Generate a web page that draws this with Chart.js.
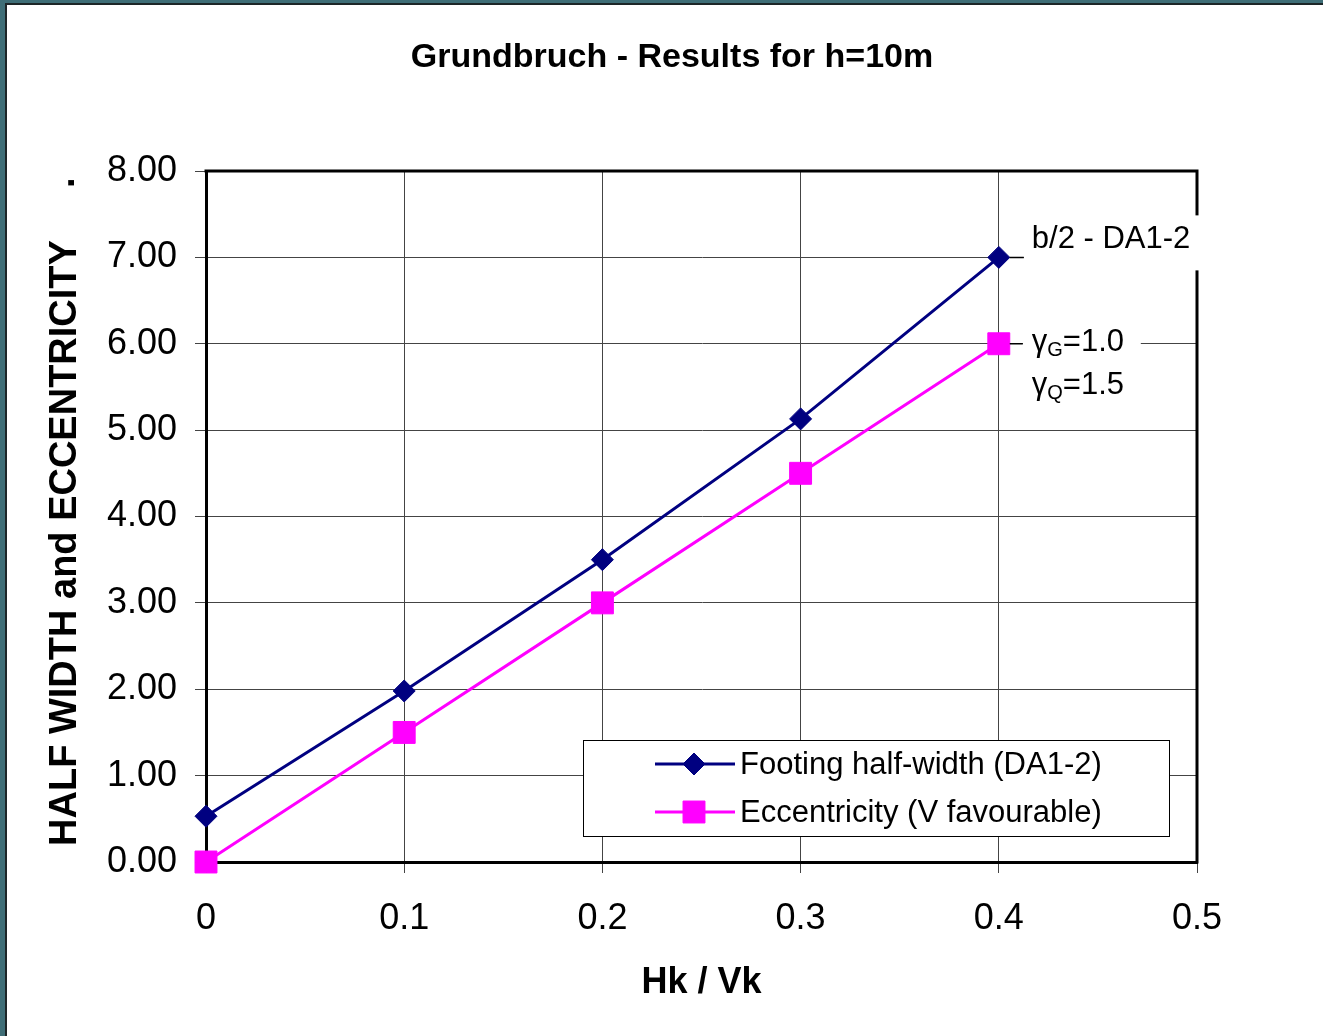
<!DOCTYPE html>
<html>
<head>
<meta charset="utf-8">
<title>Grundbruch - Results for h=10m</title>
<script src="https://cdn.jsdelivr.net/npm/chart.js@4.4.0/dist/chart.umd.min.js"></script>
<style>
  body { margin: 0; background: #fff; }
  #wrap { position: relative; width: 1323px; height: 1036px; overflow: hidden; }
  #myChart { position: absolute; left: 0; top: 0; }
  #frame { position: absolute; left: 0; top: 0; width: 1323px; height: 1036px; box-sizing: border-box;
           border-left: 5px solid #3f6e77; border-top: 3px solid #3f6e77; pointer-events: none; }
  #frame div { width: 100%; height: 100%; box-sizing: border-box;
               border-left: 2px solid #1d2628; border-top: 2px solid #1d2628; }
</style>
</head>
<body>
<div id="wrap">
  <canvas id="myChart" width="1323" height="1036"></canvas>
  <div id="frame"><div></div></div>
</div>
<script>
// values
const hkVk = [0, 0.1, 0.2, 0.3, 0.4];
const halfWidth = [0.53, 1.98, 3.5, 5.13, 7.0];
const eccentricity = [0, 1.5, 3.0, 4.5, 6.0];
const seriesLabels = ["Footing half-width (DA1-2)", "Eccentricity (V favourable)"];
const chartTitle = "Grundbruch - Results for h=10m";
const xTitle = "Hk / Vk";
const yTitle = "HALF WIDTH and ECCENTRICITY";
const noteDA = "b/2 - DA1-2";
const noteGammaG = ["γ", "G", "=1.0"];
const noteGammaQ = ["γ", "Q", "=1.5"];

const FONT = '"Liberation Sans", Arial, sans-serif';
Chart.defaults.font.family = FONT;
Chart.defaults.color = "#000";

const chartDOM = document.getElementById("myChart");

function toPoints(xs, ys) {
  return xs.map((x, i) => ({ x: x, y: ys[i] }));
}

function drawGamma(ctx, parts, x, y) {
  ctx.font = "31px " + FONT;
  ctx.fillText(parts[0], x, y);
  let w = ctx.measureText(parts[0]).width;
  ctx.font = "20px " + FONT;
  ctx.fillText(parts[1], x + w, y + 5);
  w += ctx.measureText(parts[1]).width;
  ctx.font = "31px " + FONT;
  ctx.fillText(parts[2], x + w, y);
}

const extras = {
  id: "extras",
  beforeDatasetsDraw(chart) {
    const { ctx, chartArea: a } = chart;
    ctx.save();
    ctx.strokeStyle = "#000";
    ctx.lineWidth = 3;
    ctx.beginPath();
    ctx.moveTo(a.left - 1.5, a.top);
    ctx.lineTo(a.right, a.top);
    ctx.lineTo(a.right, a.bottom + 1.5);
    ctx.stroke();
    ctx.restore();
  },
  afterDatasetsDraw(chart) {
    const { ctx } = chart;
    const xs = chart.scales.x;
    const ys = chart.scales.y;
    const last = hkVk.length - 1;
    const px = xs.getPixelForValue(hkVk[last]);
    const py1 = ys.getPixelForValue(halfWidth[last]);
    const py2 = ys.getPixelForValue(eccentricity[last]);

    ctx.save();
    // white boxes behind the notes
    ctx.fillStyle = "#fff";
    ctx.fillRect(px + 25, py1 - 42, 178, 55);
    ctx.fillRect(px + 24, py2 - 26, 118, 70);
    ctx.strokeStyle = "#000";
    ctx.lineWidth = 1.5;
    ctx.beginPath();
    ctx.moveTo(px + 11, py1);
    ctx.lineTo(px + 25, py1);
    ctx.moveTo(px + 11, py2);
    ctx.lineTo(px + 24, py2);
    ctx.stroke();

    ctx.fillStyle = "#000";
    ctx.textAlign = "left";
    ctx.textBaseline = "alphabetic";
    ctx.font = "31px " + FONT;
    ctx.fillText(noteDA, px + 33, py1 - 9);
    drawGamma(ctx, noteGammaG, px + 33, py2 + 7);
    drawGamma(ctx, noteGammaQ, px + 33, py2 + 50);

    // legend box
    ctx.fillStyle = "#fff";
    ctx.fillRect(583, 740, 586, 96);
    ctx.strokeStyle = "#000";
    ctx.lineWidth = 1;
    ctx.strokeRect(583.5, 740.5, 586, 96);
    const rows = [764, 812];
    chart.data.datasets.forEach((ds, i) => {
      const y = rows[i];
      ctx.strokeStyle = ds.borderColor;
      ctx.lineWidth = ds.borderWidth;
      ctx.beginPath();
      ctx.moveTo(655, y);
      ctx.lineTo(735, y);
      ctx.stroke();
      ctx.fillStyle = ds.pointBackgroundColor;
      ctx.strokeStyle = ds.pointBorderColor;
      ctx.lineWidth = 1;
      Chart.helpers.drawPoint(ctx, { pointStyle: ds.pointStyle, radius: ds.pointRadius, rotation: 0, borderWidth: 1 }, 694, y);
      ctx.fillStyle = "#000";
      ctx.font = "31px " + FONT;
      ctx.textBaseline = "middle";
      ctx.fillText(ds.label, 740, y + 1);
    });
    ctx.restore();
  },
  afterDraw(chart) {
    const { ctx } = chart;
    ctx.save();
    ctx.fillStyle = "#000";
    ctx.textAlign = "center";
    ctx.textBaseline = "alphabetic";
    ctx.font = "bold 34px " + FONT;
    ctx.fillText(chartTitle, 672, 67);

    ctx.translate(66, 543);
    ctx.rotate(-Math.PI / 2);
    ctx.textBaseline = "middle";
    ctx.font = "bold 38px " + FONT;
    ctx.fillText(yTitle, 0, 0);
    ctx.textAlign = "left";
    ctx.fillText(".", 355, -2);
    ctx.restore();
  }
};

const config = {
  type: "line",
  data: {
    datasets: [
      {
        label: seriesLabels[0],
        data: toPoints(hkVk, halfWidth),
        borderColor: "#000080",
        backgroundColor: "#000080",
        pointBackgroundColor: "#000080",
        pointBorderColor: "#000080",
        borderWidth: 3,
        pointStyle: "rectRot",
        pointRadius: 11,
        pointBorderWidth: 1,
        tension: 0,
        clip: false
      },
      {
        label: seriesLabels[1],
        data: toPoints(hkVk, eccentricity),
        borderColor: "#ff00ff",
        backgroundColor: "#ff00ff",
        pointBackgroundColor: "#ff00ff",
        pointBorderColor: "#ff00ff",
        borderWidth: 3,
        pointStyle: "rect",
        pointRadius: 15.5,
        pointBorderWidth: 1,
        tension: 0,
        clip: false
      }
    ]
  },
  options: {
    responsive: false,
    animation: false,
    layout: { padding: { top: 171, right: 126, left: 0, bottom: 0 } },
    plugins: {
      legend: { display: false },
      title: { display: false },
      tooltip: { enabled: false }
    },
    scales: {
      x: {
        type: "linear",
        min: 0,
        max: 0.5,
        afterFit(scale) { scale.height = 174; },
        ticks: {
          stepSize: 0.1,
          font: { size: 36 },
          padding: 24,
          callback: (v) => String(Number(v.toFixed(1)))
        },
        grid: { color: "#444", lineWidth: 1, tickLength: 11 },
        border: { color: "#000", width: 3 },
        title: {
          display: true,
          text: xTitle,
          font: { size: 36, weight: "bold" },
          padding: { top: 0, bottom: 31 }
        }
      },
      y: {
        type: "linear",
        min: 0,
        max: 8,
        afterFit(scale) { scale.width = 206; },
        ticks: {
          stepSize: 1,
          font: { size: 36 },
          padding: 18,
          callback: (v) => v.toFixed(2)
        },
        grid: { color: "#444", lineWidth: 1, tickLength: 11 },
        border: { color: "#000", width: 3 }
      }
    }
  },
  plugins: [extras]
};

const myChart = new Chart(chartDOM, config);
</script>
</body>
</html>
